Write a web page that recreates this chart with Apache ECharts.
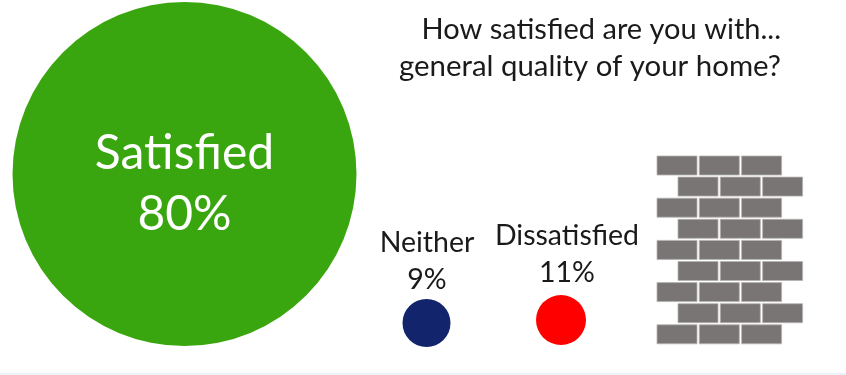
<!DOCTYPE html>
<html><head><meta charset="utf-8">
<style>html,body{margin:0;padding:0;background:#fff}#c{width:846px;height:375px}</style>
<script src="https://cdn.jsdelivr.net/npm/echarts@6/dist/echarts.min.js"></script>
</head><body><div id="c"></div>
<script>
var categories = ['Satisfied', 'Neither', 'Dissatisfied'];
var percentages = [80, 9, 11];
var titleLines = ['How satisfied are you with...', 'general quality of your home?'];

var FONT = 'Lato';
var colors = ['#3aa60f', '#12246b', '#fe0000'];
var centers = [[184.5, 174], [426.5, 323], [561, 320]];
var radii = [172, 24, 25];
var labelSpots = [[184.5, 184, 48, 61], [427, 261, 28.5, 37], [567, 254, 28.5, 37]];
var titleSizes = [29, 29.4];

var series = categories.map(function (name, i) {
  return {
    type: 'pie', silent: true, animation: false,
    center: centers[i], radius: [0, radii[i]],
    label: {show: false}, labelLine: {show: false},
    itemStyle: {color: colors[i]},
    data: [{name: name, value: percentages[i]}]
  };
});

var graphic = [];
categories.forEach(function (name, i) {
  var s = labelSpots[i];
  graphic.push({type: 'text', z: 100, x: s[0], y: s[1], style: {
    text: name + '\n' + percentages[i] + '%', font: s[2] + 'px ' + FONT,
    lineHeight: s[3], fill: i === 0 ? '#fff' : '#1a1a1a', align: 'center', verticalAlign: 'middle'
  }});
});
titleLines.forEach(function (t, i) {
  graphic.push({type: 'text', z: 100, x: 781, y: 30 + i * 37, style: {
    text: t, font: titleSizes[i] + 'px ' + FONT, fill: '#1a1a1a', align: 'right', verticalAlign: 'middle'
  }});
});
for (var row = 0; row < 9; row++) {
  for (var b = 0; b < 3; b++) {
    graphic.push({type: 'rect', z: 100,
      shape: {x: (row % 2 ? 678 : 657) + b * 42.3, y: 156 + row * 21.1, width: 40, height: 19},
      style: {fill: '#787574', stroke: '#b5b3b2', lineWidth: 0.8}});
  }
}
graphic.push({type: 'rect', z: 100, shape: {x: 0, y: 373, width: 846, height: 2}, style: {fill: '#eef1f8'}});

var chart = echarts.init(document.getElementById('c'), null, {renderer: 'canvas'});
chart.setOption({animation: false, backgroundColor: '#fff', series: series, graphic: graphic});
</script></body></html>
